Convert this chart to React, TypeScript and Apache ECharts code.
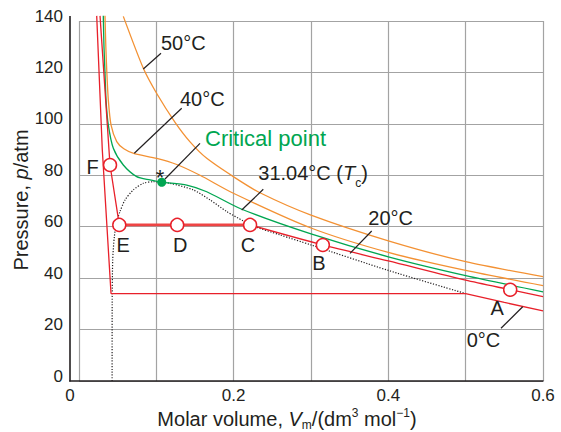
import React, { useEffect, useRef } from "react";
import * as echarts from "echarts";

const FONT = "'Liberation Sans', Arial, Helvetica, sans-serif";
const RED = "#e8202a";
const ORANGE = "#f39133";
const GREEN = "#00a651";
const INK = "#231f20";
const GRIDC = "#a3a3a3";

// Isotherms of CO2: [molar volume / dm3 mol-1, pressure / atm]
const iso0C = [[0.0229, 142], [0.0301, 90], [0.0414, 34], [0.5, 34], [0.55, 30.55], [0.6, 27.3]];
const iso20Liquid = [[0.0272, 142], [0.0401, 84], [0.0521, 60.7]];
const iso20Tie = [[0.0521, 60.7], [0.2212, 60.7]];
const iso20Gas = [[0.2212, 60.7], [0.3153, 52.9], [0.4, 46.7], [0.5, 39.2], [0.5576, 35.5], [0.6, 32.8]];
const iso31 = [
  [0.0314, 142], [0.0323, 130], [0.0336, 120], [0.035, 109], [0.0379, 99.6], [0.0444, 90.5],
  [0.0573, 84.0], [0.0746, 79.5], [0.0918, 78.2], [0.107, 77.3], [0.1393, 76.2], [0.1652, 73.6],
  [0.2105, 66.8], [0.3, 57.2], [0.4, 48.3], [0.5, 41.0], [0.6, 34.7],
];
const iso40 = [
  [0.0336, 142], [0.0347, 130], [0.036, 120], [0.0379, 109.3], [0.0414, 99.6], [0.0488, 93.1],
  [0.058, 90.3], [0.0716, 88.4], [0.1005, 86.6], [0.1264, 84.2], [0.1565, 80.0], [0.1996, 73.0],
  [0.3, 59.5], [0.4, 50.0], [0.5, 43.0], [0.6, 37.1],
];
const iso50 = [
  [0.0573, 141.8], [0.0832, 121.6], [0.1005, 111.8], [0.1242, 100.6], [0.1436, 93.0], [0.1652, 86.6],
  [0.2005, 79.3], [0.234, 73.2], [0.3, 64.5], [0.4, 54.5], [0.5, 46.4], [0.6, 40.6],
];
const coexistence = [
  [0.0428, 0], [0.0429, 30], [0.0436, 47.1], [0.0457, 56.1], [0.0488, 62.0], [0.053, 65.9],
  [0.0595, 70.4], [0.0702, 74.3], [0.0832, 76.9], [0.0961, 77.5], [0.107, 77.3], [0.1177, 76.9],
  [0.1479, 74.3], [0.1695, 70.4], [0.191, 65.9], [0.2125, 62.2], [0.2212, 60.7], [0.26, 56.8],
  [0.3, 52.9], [0.4, 43.0], [0.5, 34.0],
];
const criticalPoint = [0.107, 77.3];

const pointNames = ["A", "B", "C", "D", "E", "F"];
const pointV = [0.5576, 0.3153, 0.2212, 0.127, 0.0521, 0.0401];
const pointP = [35.5, 52.9, 60.7, 60.7, 60.7, 84.0];

// label placement (layout only)
const pointLabelPos = {
  A: { position: "bottom", distance: 1, offset: [-13, 0] },
  B: { position: "bottom", distance: 1, offset: [-4, 0] },
  C: { position: "bottom", distance: 3, offset: [-2, 0] },
  D: { position: "bottom", distance: 3, offset: [3, 0] },
  E: { position: "bottom", distance: 3, offset: [4, 0] },
  F: { position: "left", distance: 4, offset: [0, 1.5] },
};

export default function App() {
  const ref = useRef<HTMLDivElement>(null);

  useEffect(() => {
    document.body.style.margin = "0";
    const chart = echarts.init(ref.current!, null, { renderer: "svg" });

    const curve = (name: string, data: number[][], color: string, extra: any = {}) => ({
      type: "line",
      name,
      data,
      symbol: "none",
      smooth: 0.25,
      clip: false,
      silent: true,
      z: 3,
      lineStyle: { color, width: 1.3 },
      ...extra,
    });

    const ln = (x1: number, y1: number, x2: number, y2: number, w = 1.2) => ({
      type: "line",
      shape: { x1, y1, x2, y2 },
      style: { stroke: INK, lineWidth: w },
      z: 10,
      silent: true,
    });
    const tx = (x: number, y: number, text: string, extra: any = {}) => ({
      type: "text",
      x,
      y,
      z: 10,
      silent: true,
      style: {
        text,
        fill: INK,
        fontSize: 20,
        fontFamily: FONT,
        align: "left",
        verticalAlign: "middle",
        ...extra,
      },
    });

    const rn = (size: number, lh: number, extra: any = {}) => ({
      fontSize: size,
      fontFamily: FONT,
      fill: INK,
      lineHeight: lh,
      ...extra,
    });

    const option: any = {
      animation: false,
      backgroundColor: "#ffffff",
      grid: { left: 79, right: 18, top: 21, bottom: 51, outerBoundsMode: "none" },
      xAxis: {
        type: "value",
        min: 0,
        max: 0.6,
        interval: 0.1,
        axisLine: { show: false },
        axisTick: { show: false },
        splitLine: { show: true, lineStyle: { color: GRIDC, width: 1.2 } },
        axisLabel: {
          margin: 6,
          fontSize: 17,
          fontFamily: FONT,
          color: INK,
          formatter: (v: number) => {
            const k = Math.round(v * 10);
            if (k === 0) return "{z|0}";
            return k % 2 === 0 ? (k / 10).toFixed(1) : "";
          },
          rich: { z: { padding: [0, 18, 0, 0], fontSize: 17, fontFamily: FONT, color: INK } },
        },
      },
      yAxis: {
        type: "value",
        min: 0,
        max: 140,
        interval: 20,
        offset: 9,
        axisLine: { show: false },
        axisTick: { show: false },
        splitLine: { show: true, lineStyle: { color: GRIDC, width: 1.2 } },
        axisLabel: {
          margin: 7,
          fontSize: 17,
          fontFamily: FONT,
          color: INK,
          formatter: (v: number) => `{a|${v}}`,
          rich: { a: { padding: [0, 0, 10, 0], fontSize: 17, fontFamily: FONT, color: INK } },
        },
      },
      series: [
        curve("50°C", iso50, ORANGE),
        curve("40°C", iso40, ORANGE),
        curve("31.04°C", iso31, GREEN),
        curve("coexistence", coexistence, INK, {
          lineStyle: { color: INK, width: 1.2, type: [1.2, 1.6] },
          z: 2,
        }),
        curve("20°C liquid", iso20Liquid, RED, { smooth: false }),
        curve("20°C gas", iso20Gas, RED),
        curve("20°C tie", iso20Tie, "#ee3d3d", { smooth: false, lineStyle: { color: "#ee4444", width: 2.8 }, z: 4 }),
        curve("0°C", iso0C, RED, { smooth: false }),
        {
          type: "scatter",
          name: "states",
          symbol: "circle",
          symbolSize: 13,
          z: 6,
          silent: true,
          itemStyle: { color: "#ffffff", borderColor: RED, borderWidth: 1.5, opacity: 1 },
          data: pointNames.map((n, i) => ({
            name: n,
            value: [pointV[i], pointP[i]],
            label: {
              show: true,
              formatter: n,
              fontSize: 20,
              fontFamily: FONT,
              color: INK,
              ...(pointLabelPos as any)[n],
            },
          })),
        },
        {
          type: "scatter",
          name: "critical",
          symbol: "circle",
          symbolSize: 9,
          z: 7,
          silent: true,
          itemStyle: { color: GREEN, opacity: 1 },
          data: [criticalPoint],
        },
      ],
      graphic: [
        // axis lines
        ln(70, 16, 70, 381.5, 1.6),
        ln(69.2, 381, 543.5, 381, 1.6),
        // curve labels and pointers
        tx(161, 42.5, "50°C"),
        ln(161, 53.3, 143.3, 69),
        tx(180, 98.7, "40°C"),
        ln(181.7, 108.3, 134.3, 153.3),
        tx(205, 138, "Critical point", { fill: GREEN, fontSize: 22 }),
        ln(200, 143.3, 165, 179),
        tx(160, 177.5, "*", { align: "center", fontSize: 22 }),
        {
          type: "text",
          x: 258.3,
          y: 173.3,
          z: 10,
          silent: true,
          style: {
            text: "{n|31.04°C (}{i|T}{s|c}{n|)}",
            align: "left",
            verticalAlign: "middle",
            fill: INK,
            fontSize: 20,
            fontFamily: FONT,
            rich: {
              n: rn(20, 32, { verticalAlign: "middle" }),
              i: rn(20, 32, { verticalAlign: "middle", fontStyle: "italic" }),
              s: rn(12, 12, { verticalAlign: "bottom" }),
            },
          },
        },
        ln(263.3, 189.3, 241.7, 210),
        tx(368.3, 217.5, "20°C"),
        ln(371.7, 231, 350, 253.3),
        tx(466.7, 340, "0°C"),
        ln(501, 328.3, 522.7, 306.7),
        // axis titles
        {
          type: "text",
          x: 21,
          y: 200,
          rotation: Math.PI / 2,
          z: 10,
          silent: true,
          style: {
            text: "{n|Pressure, }{i|p}{n|/atm}",
            align: "center",
            verticalAlign: "middle",
            fill: INK,
            fontSize: 20,
            fontFamily: FONT,
            rich: {
              n: rn(20, 24, { verticalAlign: "middle" }),
              i: rn(20, 24, { verticalAlign: "middle", fontStyle: "italic" }),
            },
          },
        },
        {
          type: "text",
          x: 287,
          y: 419,
          z: 10,
          silent: true,
          style: {
            text: "{n|Molar volume, }{i|V}{s|m}{n|/(dm}{p|3}{n| mol}{p|−1}{n|)}",
            align: "center",
            verticalAlign: "middle",
            fill: INK,
            fontSize: 20,
            fontFamily: FONT,
            rich: {
              n: rn(20, 24, { verticalAlign: "middle" }),
              i: rn(20, 24, { verticalAlign: "middle", fontStyle: "italic" }),
              s: rn(12, 12, { verticalAlign: "bottom" }),
              p: rn(12, 12, { verticalAlign: "top" }),
            },
          },
        },
      ],
    };

    chart.setOption(option);
    return () => chart.dispose();
  }, []);

  return (
    <div
      ref={ref}
      style={{ width: 561, height: 432, position: "absolute", left: 0, top: 0 }}
    />
  );
}
